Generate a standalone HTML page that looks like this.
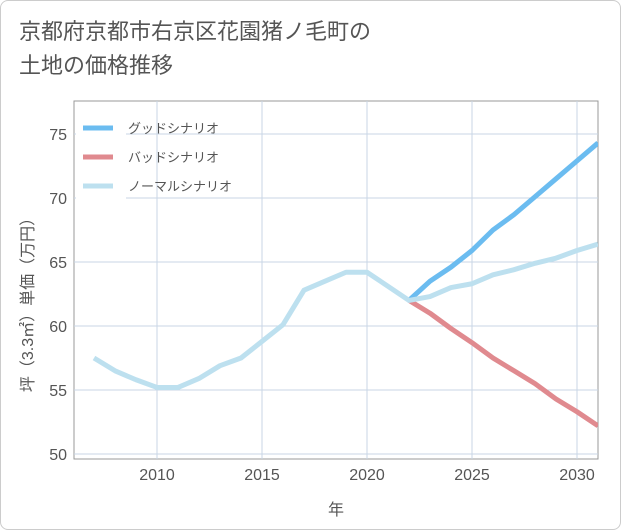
<!DOCTYPE html>
<html><head><meta charset="utf-8"><style>
body{margin:0;background:#fff;font-family:"Liberation Sans","Noto Sans CJK JP",sans-serif;}
.wrap{position:relative;width:619px;height:528px;border:1px solid #ccc;border-radius:8px;overflow:hidden;background:#fff;}
.title{position:absolute;left:18px;top:14px;font-size:22px;line-height:34px;color:#555;}
</style></head><body>
<div class="wrap">
<div class="title">京都府京都市右京区花園猪ノ毛町の<br>土地の価格推移</div>
<svg id="chart" width="621" height="530" style="position:absolute;left:0;top:0"></svg>
</div>
<script>
const years=[2007,2008,2009,2010,2011,2012,2013,2014,2015,2016,2017,2018,2019,2020,2021,2022,2023,2024,2025,2026,2027,2028,2029,2030,2031];
const normalVals=[57.5,56.5,55.8,55.2,55.2,55.9,56.9,57.5,58.8,60.1,62.8,63.5,64.2,64.2,63.1,62.0,62.3,63.0,63.3,64.0,64.4,64.9,65.3,65.9,66.4];
const goodYears=[2022,2023,2024,2025,2026,2027,2028,2029,2030,2031];
const goodVals=[62.0,63.5,64.6,65.9,67.5,68.7,70.1,71.5,72.9,74.3];
const badVals=[62.0,61.0,59.8,58.7,57.5,56.5,55.5,54.3,53.3,52.2];
const xTicks=[2010,2015,2020,2025,2030];
const yTicks=[50,55,60,65,70,75];
const NS="http://www.w3.org/2000/svg";
const svg=document.getElementById('chart');
const L=73,R=597,T=100,B=458;
const x=v=>156+(v-2010)*21;
const y=v=>133+(75-v)*12.8;
function mk(tag,attrs){const e=document.createElementNS(NS,tag);for(const k in attrs)e.setAttribute(k,attrs[k]);svg.appendChild(e);return e;}
let bg=mk('rect',{x:L,y:T,width:R-L,height:B-T,fill:'#fff',stroke:'#999','stroke-width':1});


xTicks.forEach(t=>{
 let g=mk('line',{x1:x(t),x2:x(t),y1:T,y2:B,stroke:'#c8d6e5','stroke-width':1});
 
 
 let tx=mk('text',{x:x(t),y:479,'text-anchor':'middle','font-size':16,fill:'#555'});
 tx.textContent=t;
 
 
});
yTicks.forEach(t=>{
 let g=mk('line',{x1:L,x2:R,y1:y(t),y2:y(t),stroke:'#c8d6e5','stroke-width':1});
 
 
 let tx=mk('text',{x:66,y:y(t)+6,'text-anchor':'end','font-size':16,fill:'#555'});
 tx.textContent=t;
 
 
});
function line(xs,vs,color,name){
 const d=xs.map((v,i)=>(i?'L':'M')+x(v)+','+y(vs[i])).join(' ');
 const p=mk('path',{d:d,fill:'none',stroke:color,'stroke-width':5,'stroke-linejoin':'round'});
 
 
}
const cp=mk('clipPath',{id:'cp'});
const cr=document.createElementNS(NS,'rect');cr.setAttribute('x',L);cr.setAttribute('y',T);cr.setAttribute('width',R-L);cr.setAttribute('height',B-T);cp.appendChild(cr);
line(goodYears,goodVals,'#6bbcf0','good-scenario-line');
line(goodYears,badVals,'#e08a8f','bad-scenario-line');
line(years,normalVals,'#bde0ef','normal-scenario-line');
svg.querySelectorAll('path').forEach(p=>p.setAttribute('clip-path','url(#cp)'));
let lb=mk('rect',{x:75,y:112,width:50,height:86,fill:'#fff'});


const legNames=['グッドシナリオ','バッドシナリオ','ノーマルシナリオ'];
const legColors=['#6bbcf0','#e08a8f','#bde0ef'];
legNames.forEach((n,i)=>{
 const yy=127+i*29;
 let l=mk('line',{x1:82,x2:112,y1:yy,y2:yy,stroke:legColors[i],'stroke-width':5});
 
 
 let t=mk('text',{x:127,y:yy+5,'font-size':13,fill:'#555'});
 t.textContent=n;
 
 
});
let xt=mk('text',{x:335,y:514,'text-anchor':'middle','font-size':16,fill:'#555'});
xt.textContent='年';


let yt=mk('text',{x:0,y:0,'text-anchor':'middle','font-size':16,fill:'#555',transform:'translate(32,300) rotate(-90)'});
yt.textContent='坪（3.3㎡）単価（万円）';


</script>
</body></html>
